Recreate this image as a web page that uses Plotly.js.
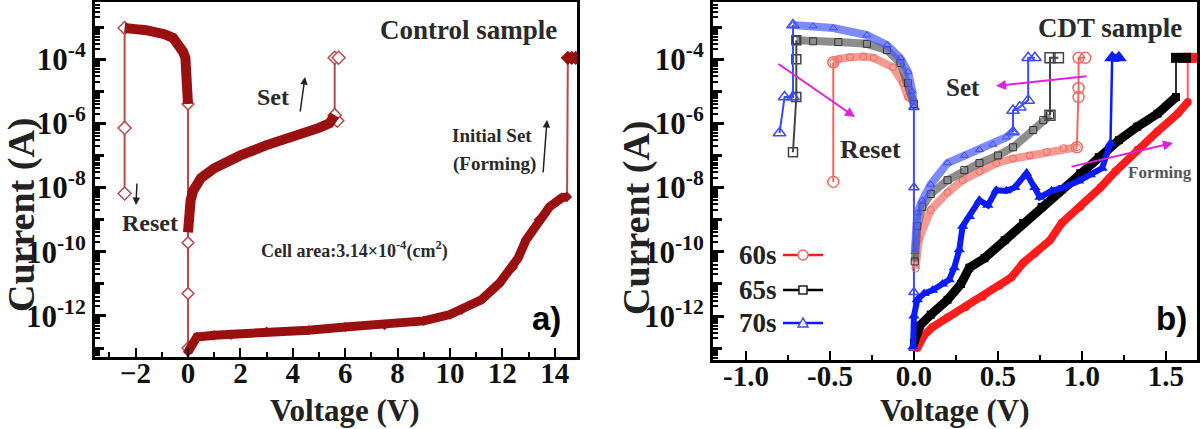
<!DOCTYPE html>
<html>
<head>
<meta charset="utf-8">
<script src="https://cdn.plot.ly/plotly-3.0.1.min.js"></script>
<style>html,body{margin:0;padding:0;background:#fff;}#chart{width:1200px;height:429px;}</style>
</head>
<body>
<div id="chart"></div>
<script>
// ---------- Panel a) Control sample ----------
const aResetV = [0, -0.01, -0.02, -0.05, -0.1, -0.19, -0.35, -0.57, -0.9, -1.2, -1.6, -2.0, -2.3, -2.42];
const aResetI = [4e-6, 1e-5, 2.5e-5, 6e-5, 1.1e-4, 1.7e-4, 2.8e-4, 4.6e-4, 6e-4, 7e-4, 8e-4, 8.6e-4, 9e-4, 9.3e-4];
const aResetDropV = [-2.42, -2.42, -2.42];
const aResetDropI = [9.3e-4, 7.2e-7, 6.5e-9];
const aZeroDropV = [0, 0, 0, 0];
const aZeroDropI = [4e-6, 1.9e-10, 5e-12, 1e-13];
const aSetV = [0, 0.02, 0.05, 0.1, 0.2, 0.5, 1, 1.5, 2, 3, 4, 5, 5.4, 5.6];
const aSetI = [4e-10, 1e-9, 1.6e-9, 4e-9, 8e-9, 2e-8, 4e-8, 7e-8, 1e-7, 2.1e-7, 3.7e-7, 7.2e-7, 1e-6, 1.8e-6];
const aSetJumpV = [5.7, 5.6, 5.6, 5.75];
const aSetJumpI = [1.2e-6, 1.8e-6, 1.1e-4, 1.1e-4];
const aFormV = [0, 0.17, 0.34, 1.0, 1.64, 3, 4.6, 6, 7.5, 9.0, 10.0, 10.45, 11.2, 11.9, 12.4, 12.6, 12.9, 13.4, 13.8, 14.27, 14.47];
const aFormI = [7.6e-14, 1.4e-13, 2.2e-13, 2.5e-13, 2.6e-13, 3.2e-13, 3.6e-13, 4.5e-13, 5.2e-13, 7e-13, 1.1e-12, 1.55e-12, 3.2e-12, 1.07e-11, 3.2e-11, 6.3e-11, 2.3e-10, 1e-9, 2.5e-9, 4.8e-9, 5.1e-9];
const aFormJumpV = [14.47, 14.5, 14.65, 14.8];
const aFormJumpI = [5.1e-9, 1.1e-4, 1.1e-4, 1.1e-4];

// ---------- Panel b) CDT sample ----------
const b60ResetV = [0, -0.035, -0.065, -0.125, -0.24, -0.3, -0.38, -0.45, -0.48];
const b60ResetI = [5e-6, 6.6e-6, 1.8e-5, 5.6e-5, 1.1e-4, 1.2e-4, 1.15e-4, 1e-4, 8e-5];
const b60ResetDropV = [-0.48, -0.48];
const b60ResetDropI = [8e-5, 1.5e-8];
const b65ResetV = [0, -0.035, -0.08, -0.16, -0.28, -0.45, -0.6, -0.70];
const b65ResetI = [4e-6, 1.8e-5, 7.6e-5, 1.9e-4, 3e-4, 3.4e-4, 3.6e-4, 3.9e-4];
const b65ResetDropV = [-0.70, -0.70, -0.70, -0.72];
const b65ResetDropI = [3.9e-4, 1e-4, 6.6e-6, 1.26e-7];
const b70ResetV = [0, -0.01, -0.035, -0.08, -0.16, -0.28, -0.48, -0.6, -0.72];
const b70ResetI = [3.2e-6, 1e-5, 4e-5, 1.07e-4, 2.75e-4, 5.6e-4, 9.3e-4, 1.07e-3, 1.15e-3];
const b70ResetDropV = [-0.72, -0.72, -0.77, -0.8];
const b70ResetDropI = [1.15e-3, 6.6e-6, 6.6e-6, 5e-7];
const b70ZeroV = [0, 0, 0, 0];
const b70ZeroI = [3.2e-6, 1e-8, 5.5e-12, 1e-13];

const b60SetV = [0.01, 0.03, 0.1, 0.2, 0.29, 0.39, 0.49, 0.59, 0.69, 0.79, 0.89, 0.97];
const b60SetI = [3e-11, 2.5e-10, 2e-9, 7e-9, 1.7e-8, 3.2e-8, 5.8e-8, 8e-8, 1e-7, 1.3e-7, 1.7e-7, 1.8e-7];
const b60SetJumpV = [0.97, 0.98, 0.98, 0.98, 1.02];
const b60SetJumpI = [1.8e-7, 6.6e-6, 1.26e-5, 1.1e-4, 1.1e-4];
const b65SetV = [0.005, 0.02, 0.05, 0.1, 0.2, 0.3, 0.39, 0.5, 0.59, 0.71, 0.77, 0.81];
const b65SetI = [5e-11, 6.3e-10, 2.5e-9, 6.3e-9, 1.7e-8, 3.5e-8, 5.8e-8, 1e-7, 1.8e-7, 6.2e-7, 1.26e-6, 1.8e-6];
const b65SetJumpV = [0.81, 0.81, 0.86];
const b65SetJumpI = [1.8e-6, 1.1e-4, 1.1e-4];
const b70SetV = [0.005, 0.02, 0.05, 0.1, 0.2, 0.3, 0.39, 0.47, 0.55, 0.59];
const b70SetI = [1e-10, 1.6e-9, 4e-9, 1.26e-8, 5.8e-8, 1e-7, 1.5e-7, 2.2e-7, 3.7e-7, 5.4e-7];
const b70SetJumpV = [0.59, 0.59, 0.63, 0.68, 0.68, 0.72];
const b70SetJumpI = [5.4e-7, 2.5e-6, 3.2e-6, 5.2e-6, 1.1e-4, 1.1e-4];

const b60FormV = [0.02, 0.06, 0.11, 0.2, 0.31, 0.41, 0.51, 0.58, 0.65, 0.72, 0.81, 0.88, 0.99, 1.11, 1.2, 1.33, 1.45, 1.57, 1.63];
const b60FormI = [1e-13, 2.5e-13, 4.5e-13, 9e-13, 1.9e-12, 4e-12, 8.9e-12, 1.6e-11, 4.5e-11, 8.9e-11, 2.3e-10, 7.9e-10, 2.5e-9, 1e-8, 3.2e-8, 1.5e-7, 5.6e-7, 2e-6, 4.6e-6];
const b60FormJumpV = [1.63, 1.63, 1.68];
const b60FormJumpI = [4.6e-6, 1.1e-4, 1.1e-4];
const b65FormV = [0.0, 0.035, 0.1, 0.2, 0.28, 0.33, 0.42, 0.54, 0.65, 0.76, 0.88, 0.99, 1.1, 1.22, 1.33, 1.45, 1.56];
const b65FormI = [1.45e-13, 5e-13, 1.1e-12, 3.2e-12, 1e-11, 3.2e-11, 6.3e-11, 2.3e-10, 7.9e-10, 2.5e-9, 8.9e-9, 2.8e-8, 8.9e-8, 3e-7, 7.9e-7, 2e-6, 6.6e-6];
const b65FormJumpV = [1.56, 1.56, 1.62];
const b65FormJumpI = [6.6e-6, 1.1e-4, 1.1e-4];
const b70FormV = [-0.005, 0.0, 0.02, 0.06, 0.11, 0.17, 0.21, 0.24, 0.27, 0.29, 0.33, 0.39, 0.44, 0.49, 0.55, 0.6, 0.67, 0.72, 0.75, 0.82, 0.89, 0.98, 1.05, 1.12, 1.17];
const b70FormI = [1.1e-13, 1e-12, 3.2e-12, 5e-12, 6.3e-12, 1e-11, 1.35e-11, 3.2e-11, 1.15e-10, 6.3e-10, 1.26e-9, 4e-9, 2.8e-9, 8.3e-9, 7.9e-9, 1e-8, 2.8e-8, 1e-8, 5e-9, 7.9e-9, 1e-8, 1.6e-8, 2.5e-8, 4e-8, 2.4e-7];
const b70FormJumpV = [1.17, 1.18, 1.22];
const b70FormJumpI = [2.4e-7, 1.1e-4, 1.1e-4];

// tick labels
const xTicksA = [-2, 0, 2, 4, 6, 8, 10, 12, 14];
const xTicksB = [-1.0, -0.5, 0.0, 0.5, 1.0, 1.5];
const xTickTextB = ['-1.0', '-0.5', '0.0', '0.5', '1.0', '1.5'];
const yTickVals = [1e-12, 1e-10, 1e-8, 1e-6, 1e-4];
const yTickText = ['10<sup>-12</sup>', '10<sup>-10</sup>', '10<sup>-8</sup>', '10<sup>-6</sup>', '10<sup>-4</sup>'];
const legendNames = ['60s', '65s', '70s'];

// extra (unlabelled) tick positions on the log axes: odd decades and 2..9 sub-steps
const yOddDecades = [];
const ySubTicks = [];
for (let d = -14; d <= -2; d++) {
  if (d % 2 !== 0) yOddDecades.push(Math.pow(10, d));
  for (let k = 2; k <= 9; k++) ySubTicks.push(k * Math.pow(10, d));
}

// ---------- styles ----------
const SERIF = 'Liberation Serif, Times New Roman, serif';
const SANS = 'Liberation Sans, Arial, sans-serif';
const W = 1200, H = 429;
const px = x => x / W;
const py = y => 1 - y / H;

const DR = '#9a1010';
const DRL = '#b84a4a';
const RED = '#ff1c1c', SALMON = 'rgba(240,120,110,0.75)', SALMONM = '#ee6a60';
const BLK = '#000000', GRAYB = 'rgba(80,80,80,0.65)', GRAYM = '#333333';
const BLUE = '#0a1cff', LBLUE = 'rgba(70,90,255,0.7)', LBLUEM = '#3a4cff';

function tr(x, y, ax, opt) {
  return Object.assign({x: x, y: y, type: 'scatter', mode: 'lines', showlegend: false, hoverinfo: 'skip',
    xaxis: ax === 'a' ? 'x' : 'x2', yaxis: ax === 'a' ? 'y' : 'y2'}, opt);
}

const traces = [
  // panel a
  tr(aZeroDropV, aZeroDropI, 'a', {mode: 'lines+markers', line: {color: DRL, width: 2},
     marker: {symbol: 'diamond', size: 9, color: '#fff', line: {color: DRL, width: 1.5}}}),
  tr(aResetDropV, aResetDropI, 'a', {mode: 'lines+markers', line: {color: DRL, width: 2},
     marker: {symbol: 'diamond', size: 10, color: '#fff', line: {color: DRL, width: 1.5}}}),
  tr(aFormJumpV, aFormJumpI, 'a', {mode: 'lines', line: {color: DRL, width: 2}}),
  tr(aSetJumpV, aSetJumpI, 'a', {mode: 'lines+markers', line: {color: DRL, width: 2},
     marker: {symbol: 'diamond', size: 10, color: '#fff', line: {color: DRL, width: 1.5}}}),
  tr(aResetV, aResetI, 'a', {mode: 'lines', line: {color: DR, width: 10}}),
  tr(aSetV, aSetI, 'a', {mode: 'lines', line: {color: DR, width: 10}}),
  tr(aFormV, aFormI, 'a', {mode: 'lines+markers', line: {color: DR, width: 9},
     marker: {symbol: 'diamond', size: 8, color: DR}}),
  tr(aFormJumpV.slice(1), aFormJumpI.slice(1), 'a', {mode: 'lines+markers', line: {color: DR, width: 8},
     marker: {symbol: 'diamond', size: 11, color: DR}}),

  // panel b: connectors (thin)
  tr(b60ResetDropV, b60ResetDropI, 'b', {mode: 'lines+markers', line: {color: SALMONM, width: 2},
     marker: {symbol: 'circle-open', size: 11, color: SALMONM, line: {width: 1.5}}}),
  tr(b65ResetDropV, b65ResetDropI, 'b', {mode: 'lines+markers', line: {color: '#444', width: 2},
     marker: {symbol: 'square-open', size: 9, color: '#444', line: {width: 1.5}}}),
  tr(b70ResetDropV, b70ResetDropI, 'b', {mode: 'lines+markers', line: {color: LBLUEM, width: 2},
     marker: {symbol: 'triangle-up-open', size: 11, color: LBLUEM, line: {width: 1.5}}}),
  tr(b70ZeroV, b70ZeroI, 'b', {mode: 'lines+markers', line: {color: LBLUEM, width: 2},
     marker: {symbol: 'triangle-up-open', size: 9, color: LBLUEM, line: {width: 1.5}}}),
  tr(b60SetJumpV, b60SetJumpI, 'b', {mode: 'lines+markers', line: {color: SALMONM, width: 2},
     marker: {symbol: 'circle-open', size: 11, color: SALMONM, line: {width: 1.5}}}),
  tr(b65SetJumpV, b65SetJumpI, 'b', {mode: 'lines+markers', line: {color: '#444', width: 2},
     marker: {symbol: 'square-open', size: 10, color: '#444', line: {width: 1.5}}}),
  tr(b70SetJumpV, b70SetJumpI, 'b', {mode: 'lines+markers', line: {color: LBLUEM, width: 2},
     marker: {symbol: 'triangle-up-open', size: 11, color: LBLUEM, line: {width: 1.5}}}),

  // panel b: hollow bands (reset + set)
  tr(b60ResetV, b60ResetI, 'b', {mode: 'lines+markers', line: {color: SALMON, width: 8},
     marker: {symbol: 'circle-open', size: 7, color: SALMONM}}),
  tr(b60SetV, b60SetI, 'b', {mode: 'lines+markers', line: {color: SALMON, width: 8},
     marker: {symbol: 'circle-open', size: 7, color: SALMONM}}),
  tr(b65ResetV, b65ResetI, 'b', {mode: 'lines+markers', line: {color: GRAYB, width: 8},
     marker: {symbol: 'square-open', size: 7, color: GRAYM}}),
  tr(b65SetV, b65SetI, 'b', {mode: 'lines+markers', line: {color: GRAYB, width: 8},
     marker: {symbol: 'square-open', size: 7, color: GRAYM}}),
  tr(b70ResetV, b70ResetI, 'b', {mode: 'lines+markers', line: {color: LBLUE, width: 8},
     marker: {symbol: 'triangle-up-open', size: 7, color: LBLUEM}}),
  tr(b70SetV, b70SetI, 'b', {mode: 'lines+markers', line: {color: LBLUE, width: 8},
     marker: {symbol: 'triangle-up-open', size: 7, color: LBLUEM}}),

  // panel b: forming (filled)
  tr(b60FormJumpV, b60FormJumpI, 'b', {mode: 'lines', line: {color: '#f06060', width: 2}}),
  tr(b65FormJumpV, b65FormJumpI, 'b', {mode: 'lines', line: {color: '#333', width: 2}}),
  tr(b70FormJumpV, b70FormJumpI, 'b', {mode: 'lines', line: {color: BLUE, width: 2.5}}),
  tr(b60FormV, b60FormI, 'b', {mode: 'lines+markers', line: {color: RED, width: 8},
     marker: {symbol: 'circle', size: 8, color: RED}}),
  tr(b65FormV, b65FormI, 'b', {mode: 'lines+markers', line: {color: BLK, width: 9},
     marker: {symbol: 'square', size: 8, color: BLK}}),
  tr(b70FormV, b70FormI, 'b', {mode: 'lines+markers', line: {color: BLUE, width: 6},
     marker: {symbol: 'triangle-up', size: 10, color: BLUE}}),
  tr(b60FormJumpV.slice(1), b60FormJumpI.slice(1), 'b', {mode: 'lines+markers', line: {color: RED, width: 9},
     marker: {symbol: 'square', size: 10, color: RED}}),
  tr(b65FormJumpV.slice(1), b65FormJumpI.slice(1), 'b', {mode: 'lines+markers', line: {color: BLK, width: 9},
     marker: {symbol: 'square', size: 10, color: BLK}}),
  tr(b70FormJumpV.slice(1), b70FormJumpI.slice(1), 'b', {mode: 'lines+markers', line: {color: BLUE, width: 8},
     marker: {symbol: 'triangle-up', size: 14, color: BLUE}})
];

const tickFont = {family: SERIF, size: 29, color: '#111', weight: 'bold'};
const yTickFont = {family: SERIF, size: 31, color: '#111', weight: 'bold'};
function xAxis(dom, range, anchor, vals, text, minorStep) {
  const a = {domain: dom, range: range, anchor: anchor, tickmode: 'array', tickvals: vals,
    ticks: 'inside', ticklen: 9, tickwidth: 2, tickcolor: '#000', ticklabelstandoff: -12,
    minor: {tickmode: 'linear', tick0: 0, dtick: minorStep, ticks: 'inside', ticklen: 5, tickwidth: 2, tickcolor: '#000'},
    showline: true, linewidth: 3, linecolor: '#000', mirror: true, showgrid: false, zeroline: false,
    tickfont: tickFont, automargin: false, fixedrange: true};
  if (text) a.ticktext = text;
  return a;
}
function yAxis(dom, range, anchor) {
  return {type: 'log', domain: dom, range: range, anchor: anchor, tickmode: 'array',
    tickvals: yTickVals, ticktext: yTickText,
    ticks: 'inside', ticklen: 11, tickwidth: 3, tickcolor: '#000',
    minor: {tickmode: 'array', tickvals: yOddDecades, ticks: 'inside', ticklen: 9, tickwidth: 3, tickcolor: '#000'},
    showline: true, linewidth: 3, linecolor: '#000', mirror: true, showgrid: false, zeroline: false,
    tickfont: yTickFont, automargin: false, fixedrange: true};
}
function ySubAxis(base, range, anchor) {
  return {type: 'log', overlaying: base, anchor: anchor, side: 'left', range: range,
    tickmode: 'array', tickvals: ySubTicks, ticks: 'inside', ticklen: 5, tickwidth: 2, tickcolor: '#000',
    showticklabels: false, showline: false, showgrid: false, zeroline: false, automargin: false, fixedrange: true};
}

function txt(x, y, s, size, opt) {
  return Object.assign({xref: 'paper', yref: 'paper', x: px(x), y: py(y), text: s, showarrow: false,
    xanchor: 'center', yanchor: 'middle', font: {family: SERIF, size: size, color: '#2a2a2a', weight: 'bold'}}, opt || {});
}
function arrow(tx, ty, hx, hy, color, w) {
  return {xref: 'paper', yref: 'paper', x: px(hx), y: py(hy), axref: 'pixel', ayref: 'pixel',
    ax: tx - hx, ay: ty - hy, text: '', showarrow: true, arrowhead: 2, arrowsize: 1, arrowwidth: w, arrowcolor: color};
}

const MAG = '#e020e0';
const titleFont = {family: SERIF, size: 31, color: '#222', weight: 'bold'};
const annotations = [
  txt(345, 410, 'Voltage (V)', 31, {font: titleFont}),
  txt(955, 410, 'Voltage (V)', 31, {font: titleFont}),
  txt(21, 215, 'Current (A)', 38, {textangle: -90, font: {family: SERIF, size: 38, color: '#222', weight: 'bold'}}),
  txt(636, 218, 'Current (A)', 38, {textangle: -90, font: {family: SERIF, size: 38, color: '#222', weight: 'bold'}}),
  txt(468, 30, 'Control sample', 27),
  txt(273, 97, 'Set', 24),
  txt(492, 135, 'Initial Set', 19),
  txt(494, 164, '(Forming)', 19),
  txt(150, 223, 'Reset', 24),
  txt(354, 250, 'Cell area:3.14×10<sup>-4</sup>(cm<sup>2</sup>)', 18),
  txt(546, 318, 'a)', 32, {font: {family: SANS, size: 33, color: '#000', weight: 'bold'}}),
  arrow(300, 113, 305, 77, '#222', 1.5),
  arrow(137, 182, 136, 205, '#222', 1.5),
  arrow(543, 174, 547, 120, '#222', 1.5),
  txt(1110, 28, 'CDT sample', 27),
  txt(963, 88, 'Set', 25),
  txt(870, 150, 'Reset', 26),
  txt(1160, 172, 'Forming', 17, {font: {family: SERIF, size: 17, color: '#555', weight: 'bold'}}),
  txt(1171, 318, 'b)', 32, {font: {family: SANS, size: 33, color: '#000', weight: 'bold'}}),
  arrow(777, 63, 855, 117, MAG, 2),
  arrow(1088, 76, 996, 86, MAG, 2),
  arrow(1070, 167, 1173, 143, MAG, 2),
  txt(779, 255, legendNames[0], 27, {xanchor: 'right', font: {family: SERIF, size: 27, color: '#222', weight: 'bold'}}),
  txt(779, 290, legendNames[1], 27, {xanchor: 'right', font: {family: SERIF, size: 27, color: '#222', weight: 'bold'}}),
  txt(779, 323, legendNames[2], 27, {xanchor: 'right', font: {family: SERIF, size: 27, color: '#222', weight: 'bold'}})
];

function lineShape(y, color) {
  return {type: 'line', xref: 'paper', yref: 'paper', x0: px(783), x1: px(823), y0: py(y), y1: py(y),
    line: {color: color, width: 2.5}};
}
function markShape(y, kind, color) {
  const base = {xref: 'paper', yref: 'paper', xsizemode: 'pixel', ysizemode: 'pixel',
    xanchor: px(803), yanchor: py(y), fillcolor: '#fff', line: {color: color, width: 1.5}};
  if (kind === 'circle') return Object.assign(base, {type: 'circle', x0: -5, x1: 5, y0: -5, y1: 5});
  if (kind === 'square') return Object.assign(base, {type: 'rect', x0: -4, x1: 4, y0: -4, y1: 4});
  return Object.assign(base, {type: 'path', path: 'M -5 -4 L 5 -4 L 0 5 Z'});
}
const shapes = [
  lineShape(255, RED), markShape(255, 'circle', SALMONM),
  lineShape(290, BLK), markShape(290, 'square', '#222'),
  lineShape(323, BLUE), markShape(323, 'triangle', LBLUEM)
];

const rangeA = [-13.28, -2.22];
const rangeB = [-13.37, -2.22];
const layout = {
  width: W, height: H, margin: {l: 0, r: 0, t: 0, b: 0},
  paper_bgcolor: '#fff', plot_bgcolor: '#fff', showlegend: false,
  xaxis: xAxis([px(95), px(577)], [-3.55, 14.85], 'y', xTicksA, null, 1),
  yaxis: yAxis([py(357), py(2)], rangeA, 'x'),
  xaxis2: xAxis([px(713), px(1197)], [-1.196, 1.685], 'y2', xTicksB, xTickTextB, 0.25),
  yaxis2: yAxis([py(360), py(2)], rangeB, 'x2'),
  yaxis3: ySubAxis('y', rangeA, 'x'),
  yaxis4: ySubAxis('y2', rangeB, 'x2'),
  annotations: annotations,
  shapes: shapes
};

traces.push(tr([], [], 'a', {yaxis: 'y3'}));
traces.push(tr([], [], 'b', {yaxis: 'y4'}));

Plotly.newPlot('chart', traces, layout, {staticPlot: true, displayModeBar: false});
</script>
</body>
</html>
